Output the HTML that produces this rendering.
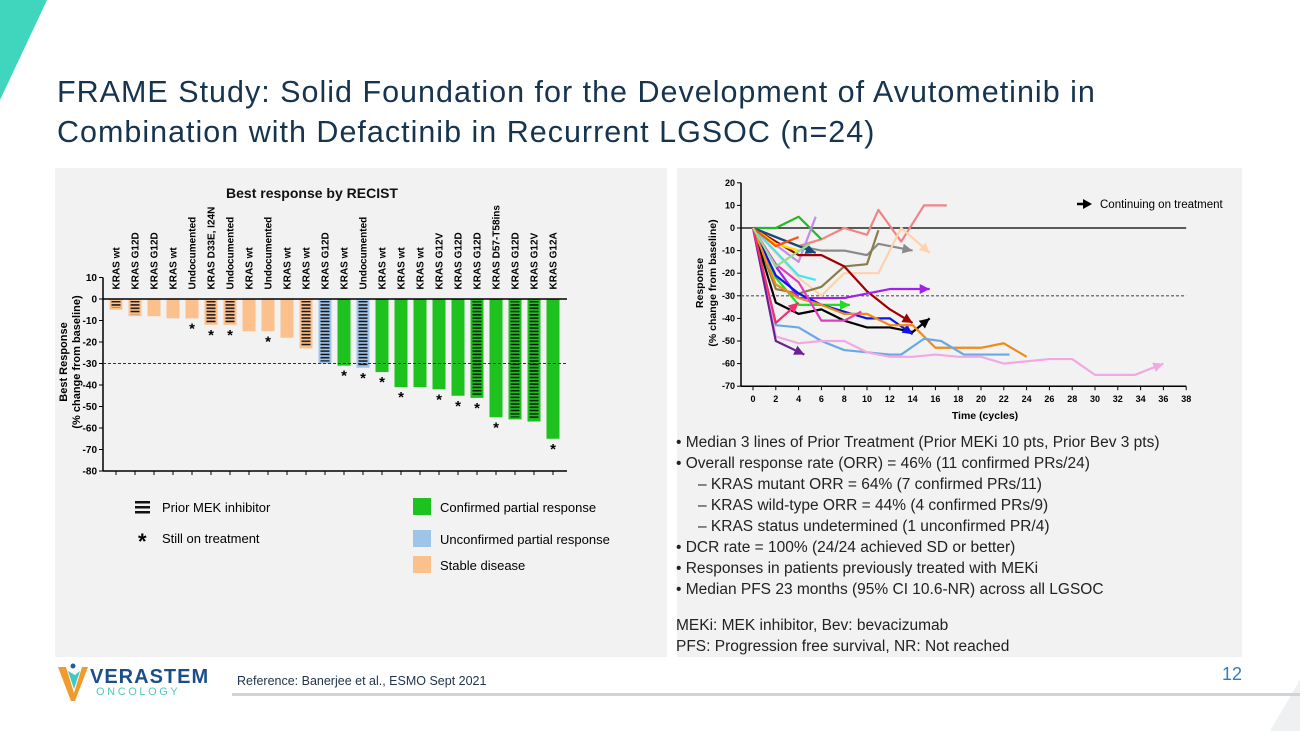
<!DOCTYPE html>
<html><head><meta charset="utf-8">
<style>
body{margin:0;width:1300px;height:731px;overflow:hidden;background:#fff;font-family:"Liberation Sans",sans-serif;position:relative}
.abs{position:absolute}
.title{left:57px;top:72px;font-size:30.5px;line-height:40px;color:#17344f;letter-spacing:1px;white-space:nowrap}
.rt{font-size:15.5px;color:#222;line-height:21px;white-space:nowrap}
</style></head><body>
<svg class="abs" style="left:0;top:0" width="1300" height="731">
<polygon points="0,0 47,0 0,100" fill="#3fd6bd"/>
<polygon points="1300,680 1300,731 1270,731" fill="#eef0f2"/>
<rect x="55" y="168" width="612" height="489" fill="#f2f2f2"/>
<rect x="677" y="168" width="565" height="489" fill="#f2f2f2"/>
<rect x="232" y="693" width="1068" height="3" fill="#cfd4d8"/>
</svg>
<div class="abs title">FRAME Study: Solid Foundation for the Development of Avutometinib in<br>Combination with Defactinib in Recurrent LGSOC (n=24)</div>

<svg id="wf" class="abs" style="left:0;top:0" width="670" height="660"></svg>
<svg id="sp" class="abs" style="left:0;top:0;pointer-events:none" width="1300" height="660"></svg>

<div class="abs rt" style="left:676px;top:432px">
• Median 3 lines of Prior Treatment (Prior MEKi 10 pts, Prior Bev 3 pts)<br>
• Overall response rate (ORR) = 46% (11 confirmed PRs/24)<br>
<span style="padding-left:22px">– KRAS mutant ORR = 64% (7 confirmed PRs/11)</span><br>
<span style="padding-left:22px">– KRAS wild-type ORR = 44% (4 confirmed PRs/9)</span><br>
<span style="padding-left:22px">– KRAS status undetermined (1 unconfirmed PR/4)</span><br>
• DCR rate = 100% (24/24 achieved SD or better)<br>
• Responses in patients previously treated with MEKi<br>
• Median PFS 23 months (95% CI 10.6-NR) across all LGSOC<br>
<div style="height:15px"></div>
MEKi: MEK inhibitor, Bev: bevacizumab<br>
PFS: Progression free survival, NR: Not reached
</div>

<div class="abs" style="left:58px;top:663px">
<svg width="30" height="40" style="position:absolute;left:0;top:0"><polygon points="0,4 8,4 16,30 24,4 30,4 17,38 13,38" fill="#f29a2e"/><polygon points="10,8 16,26 22,8 17,12" fill="#3fc9bf"/><circle cx="15" cy="3" r="2.5" fill="#1b5fa6"/></svg>
<div style="position:absolute;left:32px;top:3px;font-size:20px;font-weight:bold;color:#1b4e8c;letter-spacing:1px">VERASTEM</div>
<div style="position:absolute;left:38px;top:23px;font-size:11px;color:#4fc9c0;letter-spacing:2.6px">ONCOLOGY</div>
</div>
<div class="abs" style="left:237px;top:674px;font-size:12.5px;color:#1f3349">Reference: Banerjee et al., ESMO Sept 2021</div>
<div class="abs" style="left:1222px;top:664px;font-size:18px;color:#2f7fc0">12</div>

<script>
const NS="http://www.w3.org/2000/svg";
function mk(p,t,a){const e=document.createElementNS(NS,t);for(const k in a)e.setAttribute(k,a[k]);p.appendChild(e);return e;}
function tx(p,x,y,s,a){const e=mk(p,'text',Object.assign({x:x,y:y,'font-family':'Liberation Sans, sans-serif'},a));e.textContent=s;return e;}

// ---------- Waterfall data ----------
const wfLabels=["KRAS wt","KRAS G12D","KRAS G12D","KRAS wt","Undocumented","KRAS D33E, I24N","Undocumented","KRAS wt","Undocumented","KRAS wt","KRAS wt","KRAS G12D","KRAS wt","Undocumented","KRAS wt","KRAS wt","KRAS wt","KRAS G12V","KRAS G12D","KRAS G12D","KRAS D57-T58ins","KRAS G12D","KRAS G12V","KRAS G12A"];
const wfValues=[-5,-8,-8,-9,-9,-12,-12,-15,-15,-18,-23,-30,-31,-32,-34,-41,-41,-42,-45,-46,-55,-56,-57,-65];
const wfTypes=["S","S","S","S","S","S","S","S","S","S","S","U","C","U","C","C","C","C","C","C","C","C","C","C"];
const wfPriorMEK=[1,1,0,0,0,1,1,0,0,0,1,1,0,1,0,0,0,0,0,1,0,1,1,0];
const wfOnTreat=[0,0,0,0,1,1,1,0,1,0,0,0,1,1,1,1,0,1,1,1,1,0,0,1];
const wfTicks=[10,0,-10,-20,-30,-40,-50,-60,-70,-80];

const wf=document.getElementById('wf');
const yW=v=>299-v*2.15, xW=i=>116+i*19;
const colors={S:"#fbc08b",U:"#9fc4ea",C:"#1ec21e"};
tx(wf,312,198,"Best response by RECIST",{'font-size':14,'font-weight':'bold','text-anchor':'middle',fill:'#111'});
mk(wf,'line',{x1:103,y1:yW(10),x2:103,y2:yW(-80),stroke:'#000','stroke-width':1.5});
wfTicks.forEach(t=>{mk(wf,'line',{x1:99,y1:yW(t),x2:103,y2:yW(t),stroke:'#000'});
 const l=tx(wf,97,yW(t)+3.5,String(t),{'font-size':10,'font-weight':'bold','text-anchor':'end'});
 });
const yt=tx(wf,0,0,"Best  Response",{'font-size':11,'font-weight':'bold','text-anchor':'middle',transform:'translate(67,362) rotate(-90)'});

tx(wf,0,0,"(% change from baseline)",{'font-size':11,'font-weight':'bold','text-anchor':'middle',transform:'translate(80,362) rotate(-90)'});
mk(wf,'line',{x1:103,y1:yW(-80),x2:567,y2:yW(-80),stroke:'#000','stroke-width':1.5});
const defs=mk(wf,'defs',{});
const pat=mk(defs,'pattern',{id:'hatch',width:4,height:3.3,patternUnits:'userSpaceOnUse'});
mk(pat,'rect',{x:0,y:0.6,width:4,height:1.5,fill:'#111'});
wfValues.forEach((v,i)=>{
 const x=xW(i),y0=yW(0),y1=yW(v);
 const r=mk(wf,'rect',{x:x-6.5,y:y0,width:13,height:y1-y0,fill:colors[wfTypes[i]]});
 
 
 if(wfPriorMEK[i]) mk(wf,'rect',{x:x-4.5,y:y0+2,width:9,height:Math.max(0,y1-y0-4),fill:'url(#hatch)'});
 if(wfOnTreat[i]){const s=tx(wf,x,y1+15,"*",{'font-size':15,'font-weight':'bold','text-anchor':'middle'});
  }
 mk(wf,'line',{x1:x,y1:yW(-80),x2:x,y2:yW(-80)+4,stroke:'#000'});
 const l=tx(wf,0,0,wfLabels[i],{'font-size':10,'font-weight':'bold',transform:`translate(${x+3.5},${yW(10)+12}) rotate(-90)`});
 
});
mk(wf,'line',{x1:103,y1:yW(0),x2:567,y2:yW(0),stroke:'#000','stroke-width':1.5});
mk(wf,'line',{x1:103,y1:yW(-30),x2:567,y2:yW(-30),stroke:'#333','stroke-width':1,'stroke-dasharray':'3,2'});
const lg=mk(wf,'g',{});

[0,5,10].forEach(d=>mk(lg,'rect',{x:135,y:501+d,width:15,height:2.5,fill:'#111'}));
tx(lg,162,512,"Prior MEK inhibitor",{'font-size':13});
tx(lg,138,549,"*",{'font-size':22,'font-weight':'bold'});
tx(lg,162,543,"Still on treatment",{'font-size':13});
[["#1ec21e","Confirmed partial response",498],["#9fc4ea","Unconfirmed partial response",530],["#fbc08b","Stable disease",556]].forEach(a=>{
 mk(lg,'rect',{x:413,y:a[2],width:18,height:17,fill:a[0]});
 tx(lg,440,a[2]+14,a[1],{'font-size':13});
});

// ---------- Spider plot data ----------
const spTicksX=[0,2,4,6,8,10,12,14,16,18,20,22,24,26,28,30,32,34,36,38];
const spTicksY=[20,10,0,-10,-20,-30,-40,-50,-60,-70];
const s01=[[0,0],[4,-8],[6,-5],[8,0],[10,-3],[11,8],[13,-6],[15,10],[17,10]];
const s02=[[0,0],[2,0],[4,5],[6,-5]];
const s03=[[0,0],[4,-15],[5.5,5]];
const s04=[[0,0],[4,-8],[6,-10],[8,-10],[10,-12],[11,-7],[14,-10]];
const s05=[[0,0],[4,-22],[6,-30],[8,-20],[11,-20],[13,0],[15.5,-11]];
const s06=[[0,0],[2,-27],[4,-29],[6,-26],[8,-17],[10,-16],[11,-1]];
const s07=[[0,0],[4,-12],[6,-12],[8,-17],[10,-28],[12,-36],[14,-42]];
const s08=[[0,0],[2,-17],[4,-31],[8,-31],[10,-29],[12,-27],[15.5,-27]];
const s09=[[0,0],[2,-22],[4,-34],[8.5,-34]];
const s10=[[0,0],[2,-33],[4,-38],[6,-36],[8,-41],[10,-44],[12,-44],[14,-46],[15.5,-40]];
const s11=[[0,0],[2,-21],[4,-29],[6,-34],[8,-37],[10,-40],[12,-40],[14,-47]];
const s12=[[0,0],[2,-25],[4,-31],[6,-34],[8,-38],[10,-38],[12,-43],[14,-43],[16,-53],[20,-53],[22,-51],[24,-57]];
const s13=[[0,0],[2,-43],[4,-44],[6,-50],[8,-54],[10,-55],[12,-56],[13,-56],[15,-49],[16.5,-50],[18.5,-56],[22.5,-56]];
const s14=[[0,0],[2,-48],[4,-51],[6,-50],[8,-50],[10,-55],[12,-57],[14,-57],[16,-56],[18,-57],[20,-57],[22,-60],[26,-58],[28,-58],[30,-65],[33.5,-65],[36,-60]];
const s15=[[0,0],[2,-50],[4.5,-56]];
const s16=[[0,0],[2,-16],[4,-24],[6,-41],[8,-41],[9.5,-37]];
const s17=[[0,0],[2,-42],[4,-33]];
const s18=[[0,0],[4,-21],[5.5,-23]];
const s19=[[0,0],[2,-7],[4,-10]];
const s20=[[0,0],[5.5,-11]];
const s21=[[0,0],[2,-8],[4,-4]];
const s22=[[0,0],[2,-17],[5,-7]];
const spSeries=[s01,s02,s03,s04,s05,s06,s07,s08,s09,s10,s11,s12,s13,s14,s15,s16,s17,s18,s19,s20,s21,s22];
const spColors=["#f08484","#22bb22","#c58be6","#8a8a8a","#ffd2ad","#8c7c48","#a00000","#a020f0","#22dd22","#000000","#0a14e6","#f08a1a","#6aa8e8","#f2a8e2","#6a2090","#e040c0","#f03070","#40e6f0","#ffe000","#104c80","#ff5010","#90e090"];
const spArrow=[0,0,0,1,1,0,1,1,1,1,1,0,0,1,1,0,1,0,0,1,0,0];

const sp=document.getElementById('sp');
const xS=t=>753+t*11.4, yS=v=>228-v*2.26;
mk(sp,'line',{x1:741,y1:yS(20),x2:741,y2:yS(-70),stroke:'#000','stroke-width':1.5});
mk(sp,'line',{x1:741,y1:yS(-70),x2:xS(38),y2:yS(-70),stroke:'#000','stroke-width':1.5});
spTicksY.forEach(t=>{mk(sp,'line',{x1:737,y1:yS(t),x2:741,y2:yS(t),stroke:'#000'});
 tx(sp,735,yS(t)+3,String(t),{'font-size':9,'font-weight':'bold','text-anchor':'end'});});
spTicksX.forEach(t=>{mk(sp,'line',{x1:xS(t),y1:yS(-70),x2:xS(t),y2:yS(-70)+4,stroke:'#000'});
 tx(sp,xS(t),yS(-70)+16,String(t),{'font-size':9,'font-weight':'bold','text-anchor':'middle'});});
tx(sp,985,419,"Time (cycles)",{'font-size':10.5,'font-weight':'bold','text-anchor':'middle'});
tx(sp,0,0,"Response",{'font-size':10.5,'font-weight':'bold','text-anchor':'middle',transform:'translate(703,283) rotate(-90)'});
tx(sp,0,0,"(% change from baseline)",{'font-size':10.5,'font-weight':'bold','text-anchor':'middle',transform:'translate(716,283) rotate(-90)'});
mk(sp,'line',{x1:741,y1:yS(0),x2:xS(38),y2:yS(0),stroke:'#000','stroke-width':1.2});
mk(sp,'line',{x1:741,y1:yS(-30),x2:xS(38),y2:yS(-30),stroke:'#555','stroke-width':1.2,'stroke-dasharray':'3,2'});
spSeries.forEach((s,i)=>{
 const pts=s.map(p=>xS(p[0])+','+yS(p[1])).join(' ');
 const pl=mk(sp,'polyline',{points:pts,fill:'none',stroke:spColors[i],'stroke-width':2.2,'stroke-linejoin':'round'});
 
 
 if(spArrow[i]){const a=s[s.length-2],b=s[s.length-1];
  const x1=xS(a[0]),y1=yS(a[1]),x2=xS(b[0]),y2=yS(b[1]);
  const ang=Math.atan2(y2-y1,x2-x1),L=10,W=5;
  const bx=x2-L*Math.cos(ang),by=y2-L*Math.sin(ang);
  const p=`${x2},${y2} ${bx+W*Math.sin(ang)},${by-W*Math.cos(ang)} ${bx-W*Math.sin(ang)},${by+W*Math.cos(ang)}`;
  mk(sp,'polygon',{points:p,fill:spColors[i]});}
});
mk(sp,'line',{x1:1077,y1:204,x2:1086,y2:204,stroke:'#000','stroke-width':2.5});
mk(sp,'polygon',{points:'1092,204 1083,199 1083,209',fill:'#000'});
const lt=tx(sp,1100,208,"Continuing on treatment",{'font-size':11.5});

</script>
</body></html>
